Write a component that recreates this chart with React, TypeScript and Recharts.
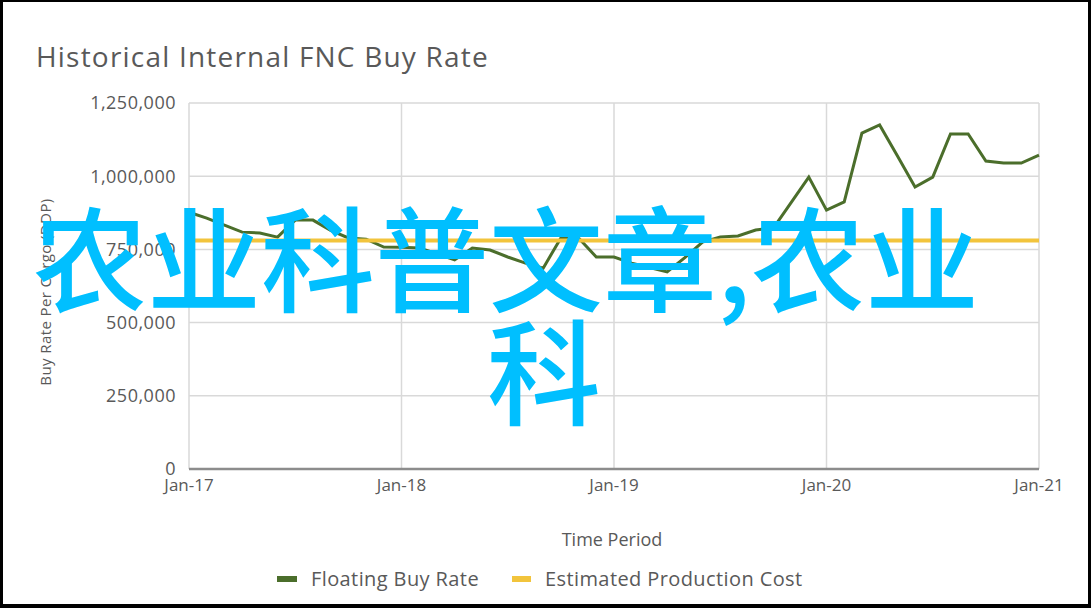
import { LineChart, Line, XAxis, YAxis, CartesianGrid } from "recharts";

// months since Jan-17, x ticks sit on every January
const yearTicks = [0, 12, 24, 36, 48];
const yearLabels = ["Jan-17", "Jan-18", "Jan-19", "Jan-20", "Jan-21"];
const rateTicks = [0, 250000, 500000, 750000, 1000000, 1250000];

// Floating Buy Rate, one value per month Jan-17 .. Jan-21
const buyRate = [
  877000, 857000, 833000, 809000, 806000, 792000, 850000, 850000, 815000, 789000, 785000, 758000,
  757000, 755000, 735000, 714000, 755000, 748000, 724000, 703000, 686000, 789000, 789000, 724000,
  724000, 703000, 688000, 673000, 722000, 775000, 792000, 796000, 816000, 823000, 910000, 997000,
  884000, 912000, 1147000, 1175000, 1070000, 963000, 997000, 1144000, 1144000, 1052000, 1045000, 1045000,
  1072000,
];

// Estimated Production Cost is flat over the whole period
const costMonths = [0, 48];
const costValues = [780000, 780000];

const GREEN = "#4b6e2b";
const YELLOW = "#f2c43c";
const TEXT = "#595959";
const FONT = "'Open Sans', 'Noto Sans', sans-serif";

export default function App() {
  const rateData = buyRate.map((v, i) => ({ month: i, rate: v }));
  const costData = costMonths.map((m, i) => ({ month: m, cost: costValues[i] }));

  return (
    <div
      style={{
        position: "absolute",
        left: 0,
        top: 0,
        width: 1091,
        height: 608,
        background: "#fff",
        fontFamily: FONT,
        overflow: "hidden",
      }}
    >
      <div
        style={{
          position: "absolute",
          left: 36,
          top: 37,
          fontSize: 28,
          letterSpacing: 1.2,
          color: TEXT,
          lineHeight: "38px",
        }}
      >
        Historical Internal FNC Buy Rate
      </div>

      <LineChart width={1091} height={608} margin={{ top: 103, right: 52, bottom: 109, left: 0 }}>
        <CartesianGrid stroke="#d9d9d9" strokeWidth={1.5} />
        <XAxis
          dataKey="month"
          type="number"
          domain={[0, 48]}
          ticks={yearTicks}
          tickFormatter={(v) => yearLabels[yearTicks.indexOf(v)]}
          allowDuplicatedCategory={false}
          height={30}
          axisLine={{ stroke: "#8c8c8c", strokeWidth: 2.5 }}
          tickLine={false}
          tickMargin={4}
          tick={{ fill: TEXT, fontSize: 17, fontFamily: FONT }}
        />
        <YAxis
          type="number"
          domain={[0, 1250000]}
          ticks={rateTicks}
          width={189}
          axisLine={false}
          tickLine={false}
          tickMargin={7}
          tickFormatter={(v) => v.toLocaleString("en-US")}
          tick={{ fill: TEXT, fontSize: 18, fontFamily: FONT, letterSpacing: 0.5 }}
          label={{
            value: "Buy Rate Per Cargo (DDP)",
            angle: -90,
            position: "insideLeft",
            offset: 46,
            dy: 6,
            style: { textAnchor: "middle", fill: TEXT, fontSize: 15, fontFamily: FONT, letterSpacing: 0.4 },
          }}
        />
        <Line
          data={rateData}
          dataKey="rate"
          type="linear"
          stroke={GREEN}
          strokeWidth={3}
          dot={false}
          isAnimationActive={false}
        />
        <Line
          data={costData}
          dataKey="cost"
          type="linear"
          stroke={YELLOW}
          strokeWidth={4}
          dot={false}
          isAnimationActive={false}
        />
      </LineChart>

      <div style={{ position: "absolute", left: 0, width: 1224, top: 527, textAlign: "center", fontSize: 18, color: TEXT }}>
        Time Period
      </div>

      {/* legend */}
      <div
        style={{
          position: "absolute",
          left: 277,
          top: 565,
          display: "flex",
          alignItems: "center",
          fontSize: 20,
          letterSpacing: 0.4,
          color: TEXT,
        }}
      >
        <span style={{ width: 20, height: 6, background: GREEN, display: "inline-block", marginRight: 14 }} />
        <span style={{ marginRight: 33 }}>Floating Buy Rate</span>
        <span style={{ width: 19, height: 6, background: YELLOW, display: "inline-block", marginRight: 14 }} />
        <span>Estimated Production Cost</span>
      </div>

      {/* overlay caption */}
      <div
        style={{
          position: "absolute",
          left: 33,
          top: 196,
          fontFamily: "'Noto Sans CJK SC', sans-serif",
          fontSize: 114,
          fontWeight: 500,
          lineHeight: "116px",
          color: "#00bfff",
          whiteSpace: "nowrap",
        }}
      >
        农业科普文章,农业
      </div>
      <div
        style={{
          position: "absolute",
          left: 487,
          top: 309,
          fontFamily: "'Noto Sans CJK SC', sans-serif",
          fontSize: 114,
          fontWeight: 500,
          lineHeight: "116px",
          color: "#00bfff",
        }}
      >
        科
      </div>

      <div
        style={{
          position: "absolute",
          inset: 0,
          borderStyle: "solid",
          borderColor: "#000",
          borderWidth: "2px 3px 4px 3px",
          boxSizing: "border-box",
          pointerEvents: "none",
        }}
      />
    </div>
  );
}
